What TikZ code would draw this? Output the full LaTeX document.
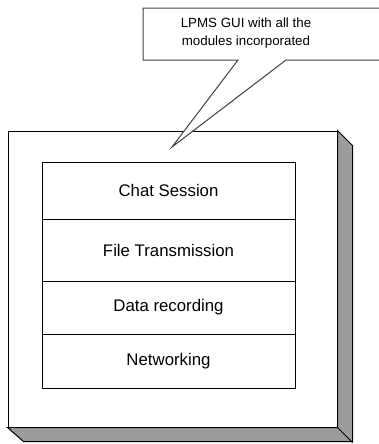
\documentclass[tikz,border=0pt]{standalone}
\usepackage{fontspec}
\setmainfont{Liberation Sans}
\usetikzlibrary{positioning}
\definecolor{shade}{HTML}{9C9C9C}
\definecolor{noteline}{HTML}{404040}
\tikzset{
  layer/.style={draw, fill=white, minimum width=189.75pt, inner sep=0pt, font=\fontsize{12.6}{14}\selectfont},
  note/.style={align=center, font=\fontsize{10}{14}\selectfont}
}

\begin{document}
\begin{tikzpicture}[x=0.75pt, y=-0.75pt, line width=0.75pt]
\useasboundingbox (0,0) rectangle (379,444);
% outer frame and its shadow
\node[draw, fill=white, minimum width=246.75pt, minimum height=222pt, inner sep=0pt] (frame) at (172.5, 279) {};
\draw[fill=shade] (frame.north east) -- ++(15,15) -- ++(0,296) -- ++(-329,0) -- (frame.south west) -- (frame.south east) -- cycle;
\draw (frame.south east) -- ++(15,15);
% module layers
\node[layer, minimum height=42.75pt] (chat) at (168.5, 190.5) {Chat Session};
\node[layer, minimum height=46.5pt] (file) at (168.5, 250) {File Transmission};
\node[layer, minimum height=39.75pt] (data) at (168.5, 307.5) {Data recording};
\node[layer, minimum height=40.5pt] (net) at (168.5, 361) {Networking};
% callout
\coordinate (tip) at (172, 147);
\draw[noteline, fill=white] (143,8) -- (385,8) -- (385,60) -- (286,60) -- (tip) -- (238,60) -- (143,60) -- cycle;
\node[note] (gui) at (246, 33) {LPMS GUI with all the\\modules incorporated};
\end{tikzpicture}
\end{document}
